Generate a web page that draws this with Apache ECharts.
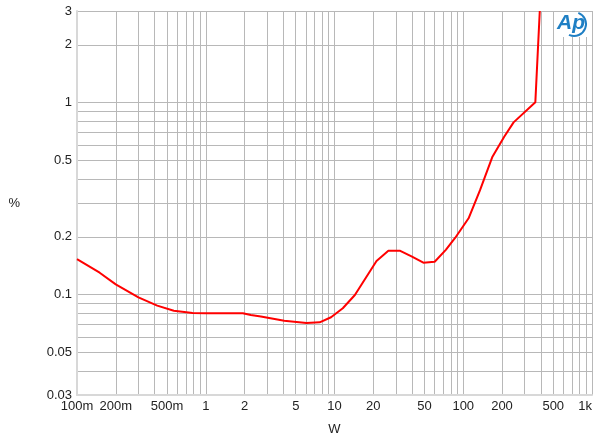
<!DOCTYPE html>
<html>
<head>
<meta charset="utf-8">
<script src="https://cdn.jsdelivr.net/npm/echarts@6/dist/echarts.min.js"></script>
<style>
html,body{margin:0;padding:0;background:#fff;}
#chart{width:600px;height:443px;}
</style>
</head>
<body>
<div id="chart"></div>
<script>
// Data: power (W) vs THD+N (%)
const powerW = [0.1, 0.15, 0.2, 0.3, 0.42, 0.565, 0.79, 1.0, 1.5, 1.94, 2.24, 2.68, 4.07, 6.06, 7.67, 9.4, 11.6, 14.4, 21.2, 26.2, 32.4, 40, 49, 60, 73.2, 86.7, 110, 135, 168.6, 208, 246, 363, 393];
const thdPct = [0.153, 0.13, 0.113, 0.0968, 0.0876, 0.0824, 0.0802, 0.080, 0.080, 0.080, 0.0783, 0.077, 0.0731, 0.0711, 0.0717, 0.0762, 0.0849, 0.0995, 0.1496, 0.169, 0.169, 0.1576, 0.1466, 0.1484, 0.171, 0.1978, 0.2497, 0.35, 0.523, 0.664, 0.789, 1.004, 3.0];

// Tick labels
const xLabelValues = [0.1, 0.2, 0.5, 1, 2, 5, 10, 20, 50, 100, 200, 500, 1000];
const xLabelTexts = ['100m', '200m', '500m', '1', '2', '5', '10', '20', '50', '100', '200', '500', '1k'];
const yLabelValues = [0.03, 0.05, 0.1, 0.2, 0.5, 1, 2, 3];
const yLabelTexts = ['0.03', '0.05', '0.1', '0.2', '0.5', '1', '2', '3'];

// Grid line values
const xGridValues = [0.1,0.2,0.3,0.4,0.5,0.6,0.7,0.8,0.9,1,2,3,4,5,6,7,8,9,10,20,30,40,50,60,70,80,90,100,200,300,400,500,600,700,800,900,1000];
const yGridValues = [0.03,0.04,0.05,0.06,0.07,0.08,0.09,0.1,0.2,0.3,0.4,0.5,0.6,0.7,0.8,0.9,1,2,3];

function lookup(vals, texts, v) {
  for (let i = 0; i < vals.length; i++) {
    if (Math.abs(v - vals[i]) <= vals[i] * 1e-6) return texts[i];
  }
  return '';
}

const chart = echarts.init(document.getElementById('chart'), null, {renderer: 'canvas'});
const font = 'Liberation Sans, Arial, sans-serif';
chart.setOption({
  animation: false,
  backgroundColor: '#ffffff',
  grid: {left: 77, right: 8, top: 11, bottom: 48, containLabel: false},
  xAxis: {
    type: 'log', logBase: 10, min: 0.1, max: 1000,
    name: 'W', nameLocation: 'middle', nameGap: 28,
    nameTextStyle: {color: '#222', fontSize: 13, fontFamily: font},
    axisLine: {show: true, lineStyle: {color: '#d8d8d8', width: 2}},
    axisTick: {show: false, customValues: xGridValues},
    axisLabel: {
      customValues: xLabelValues, color: '#222', fontSize: 13, fontFamily: font, margin: 5,
      alignMaxLabel: 'right',
      formatter: v => lookup(xLabelValues, xLabelTexts, v)
    },
    splitLine: {show: true, lineStyle: {color: '#b8b8b8', width: 1}}
  },
  yAxis: {
    type: 'log', logBase: 10, min: 0.03, max: 3,
    name: '%', nameLocation: 'middle', nameGap: 57, nameRotate: 0,
    nameTextStyle: {color: '#222', fontSize: 13, fontFamily: font},
    axisLine: {show: true, lineStyle: {color: '#d8d8d8', width: 2}},
    axisTick: {show: false, customValues: yGridValues},
    axisLabel: {
      customValues: yLabelValues, color: '#222', fontSize: 13, fontFamily: font, margin: 5,
      formatter: v => lookup(yLabelValues, yLabelTexts, v)
    },
    splitLine: {show: true, lineStyle: {color: '#b8b8b8', width: 1}}
  },
  series: [{
    type: 'line',
    data: powerW.map((x, i) => [x, thdPct[i]]),
    showSymbol: false,
    smooth: false,
    clip: true,
    lineStyle: {color: '#ff0000', width: 2},
    itemStyle: {color: '#ff0000'}
  }],
  graphic: [
    {
      type: 'rect', z: 9,
      shape: {x: 555, y: 12, width: 33, height: 25},
      style: {fill: '#ffffff'}
    },
    {
      type: 'text', left: 557, top: 13, z: 10,
      style: {text: 'Ap', fill: '#1f7fc4', font: 'italic bold 21px ' + font}
    },
    {
      type: 'arc', z: 10,
      shape: {cx: 574, cy: 24, r: 12, startAngle: -1.2, endAngle: 2.0},
      style: {stroke: '#1f7fc4', lineWidth: 2, fill: null}
    }
  ]
});
</script>
</body>
</html>
